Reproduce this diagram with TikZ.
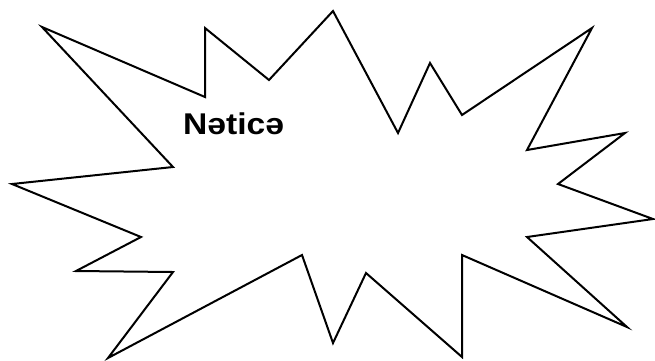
\documentclass[tikz,border=0pt]{standalone}
\usepackage{fontspec}
\setmainfont{Liberation Sans}
\begin{document}
\begin{tikzpicture}[x=1pt,y=-1pt,
  burst/.style={draw=black,line width=2pt,line join=miter,fill=white},
  label/.style={font=\bfseries\fontsize{30}{34}\selectfont,inner sep=0pt,anchor=base west}]
\useasboundingbox (0,0) rectangle (655,360);
\draw[burst] (42,27) -- (205,97) -- (205,28) -- (269,80) -- (333,11)
  -- (398,133) -- (430,63) -- (462,115) -- (592,28) -- (527,150)
  -- (625,133) -- (558,184) -- (653,219) -- (527,237) -- (627,327)
  -- (462,255) -- (462,357) -- (366,273) -- (333,343) -- (302,255)
  -- (108,358) -- (173,272) -- (76,271) -- (141,237) -- (12,184)
  -- (173,167) -- cycle;
\node[label] (t) at (183,134) {\scalebox{1.12}[1]{Nəticə}};
\end{tikzpicture}
\end{document}
